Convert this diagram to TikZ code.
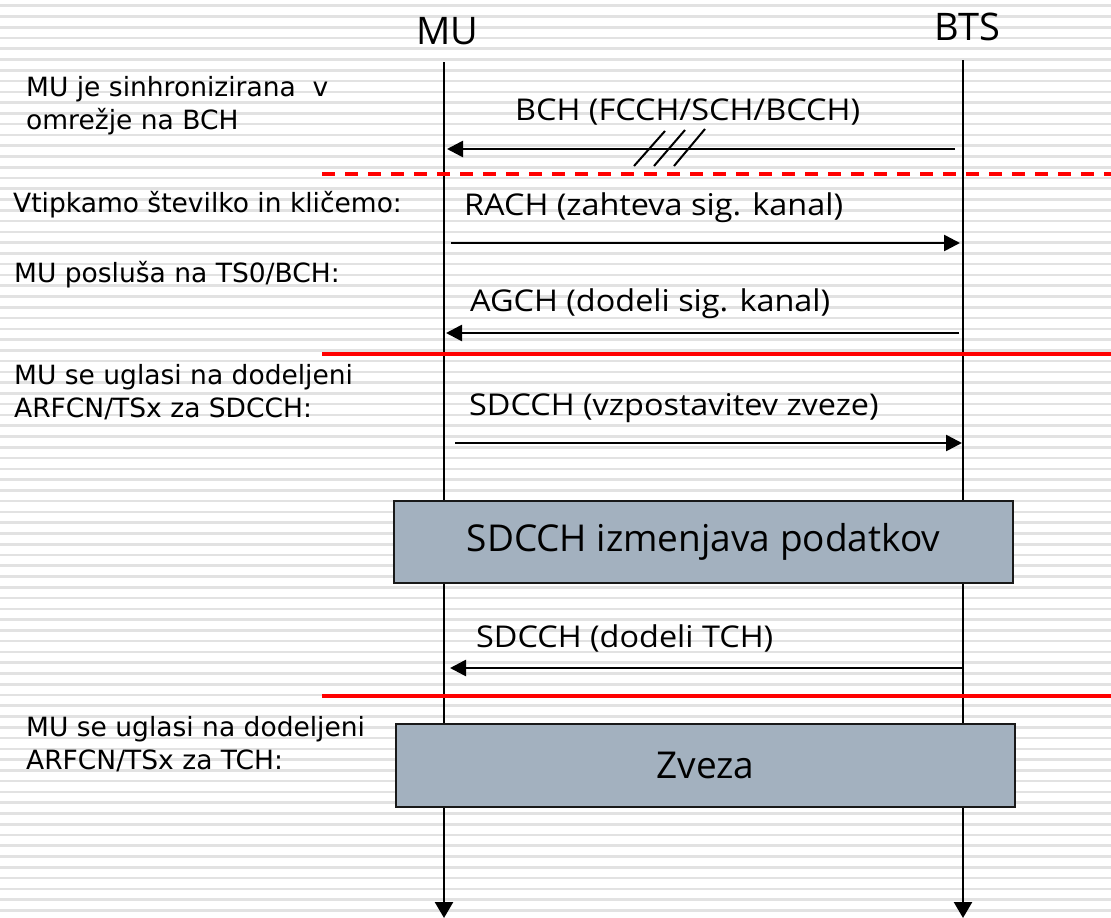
\documentclass[tikz,border=0pt]{standalone}
\usepackage{fontspec}
\setmainfont{DejaVu Sans}
\newfontfamily\lblfont[FakeStretch=1.08]{Open Sans}
\newfontfamily\boxfont{Open Sans}
\usetikzlibrary{arrows.meta}

\definecolor{stripegray}{RGB}{226,226,226}
\definecolor{boxfill}{RGB}{163,177,191}
\definecolor{sepred}{RGB}{255,0,0}

\begin{document}
\begin{tikzpicture}[x=1pt,y=-1pt,
  stripe/.style={draw=stripegray, line width=2.6pt},
  lifeline/.style={line width=2.5pt, -{Triangle[width=18pt,length=16pt]}},
  msgarrow/.style={line width=2.6pt, -{Triangle[width=16pt,length=16pt]}},
  separator/.style={draw=sepred, line width=3.4pt},
  dashsep/.style={separator, dash pattern=on 13pt off 10pt},
  note/.style={anchor=base west, align=left, inner sep=0pt,
    font=\fontsize{26.5}{32.5}\selectfont},
  head/.style={anchor=base, inner sep=0pt, font=\boxfont\fontsize{38}{44}\selectfont},
  msglabel/.style={anchor=base west, inner sep=0pt, font=\lblfont\fontsize{30}{36}\selectfont},
  phase/.style={draw=black!90, line width=2.4pt, fill=boxfill, inner sep=0pt,
    font=\boxfont\fontsize{37}{44}\selectfont},
  slash/.style={line width=2pt}]

\useasboundingbox (0,0) rectangle (1111,918);
\fill[white] (0,0) rectangle (1111,918);

% ruled background
\foreach \i in {0,...,85}{
  \pgfmathsetmacro{\yy}{5.7+10.77*\i}
  \draw[stripe] (0,\yy) -- (1111,\yy);
}

% participants
\node[head] (mu) at (447,44) {MU};
\node[head] (bts) at (967.5,40) {BTS};

\coordinate (muTop) at (444,62);
\coordinate (muEnd) at (444,918);
\coordinate (btsTop) at (963,60);
\coordinate (btsEnd) at (963,918);

\draw[lifeline] (muTop) -- (muEnd);
\draw[lifeline] (btsTop) -- (btsEnd);

% separators between phases
\coordinate (sepA) at (322,174);  \coordinate (sepAe) at (1111,174);
\coordinate (sepB) at (322,354);  \coordinate (sepBe) at (1111,354);
\coordinate (sepC) at (322,696);  \coordinate (sepCe) at (1111,696);
\draw[dashsep] (sepA) -- (sepAe);
\draw[separator] (sepB) -- (sepBe);
\draw[separator] (sepC) -- (sepCe);

% left-hand notes (multi-line nodes sit on their last baseline)
\node[note] (n1) at (26,129) {MU je sinhronizirana\ \ v\\omrežje na BCH};
\node[note] (n2) at (13,212) {Vtipkamo številko in kličemo:};
\node[note] (n3) at (14,282) {MU posluša na TS0/BCH:};
\node[note] (n4) at (14,417) {MU se uglasi na dodeljeni\\ARFCN/TSx za SDCCH:};
\node[note] (n5) at (26,769) {MU se uglasi na dodeljeni\\ARFCN/TSx za TCH:};

% BCH broadcast
\coordinate (bchS) at (955,149);
\coordinate (bchE) at (447,149);
\draw[msgarrow] (bchS) -- (bchE);
\node[msglabel] (bch) at (515,120) {BCH (FCCH/SCH/BCCH)};
\coordinate (s1a) at (634,166); \coordinate (s1b) at (665,131);
\coordinate (s2a) at (654,166); \coordinate (s2b) at (685,130);
\coordinate (s3a) at (674,166); \coordinate (s3b) at (705,129);
\draw[slash] (s1a) -- (s1b);
\draw[slash] (s2a) -- (s2b);
\draw[slash] (s3a) -- (s3b);

% RACH
\coordinate (rachS) at (451,243);
\coordinate (rachE) at (960,243);
\draw[msgarrow] (rachS) -- (rachE);
\node[msglabel] (rach) at (464,215) {RACH (zahteva sig. kanal)};

% AGCH
\coordinate (agchS) at (959,333);
\coordinate (agchE) at (446,333);
\draw[msgarrow] (agchS) -- (agchE);
\node[msglabel] (agch) at (470,311) {AGCH (dodeli sig. kanal)};

% SDCCH set-up
\coordinate (sdS) at (455,443);
\coordinate (sdE) at (962,443);
\draw[msgarrow] (sdS) -- (sdE);
\node[msglabel] (sd) at (469,415) {SDCCH (vzpostavitev zveze)};

% SDCCH exchange
\node[phase, minimum width=619pt, minimum height=82pt] (exch) at (703.5,542)
  {SDCCH izmenjava podatkov};

% TCH assignment
\coordinate (tchS) at (964,668);
\coordinate (tchE) at (450,668);
\draw[msgarrow] (tchS) -- (tchE);
\node[msglabel] (tch) at (476,647) {SDCCH (dodeli TCH)};

% traffic channel
\node[phase, minimum width=619pt, minimum height=83pt] (conn) at (705.5,765.5)
  {Zveza};

\end{tikzpicture}
\end{document}
